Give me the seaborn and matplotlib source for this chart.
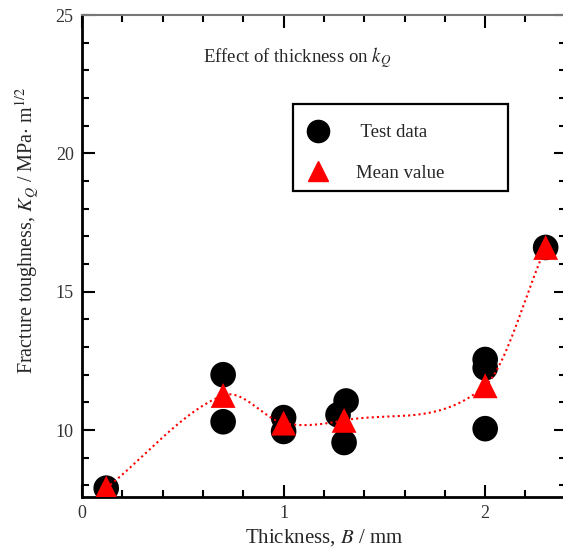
import matplotlib

matplotlib.use("Agg")
import matplotlib.pyplot as plt
from matplotlib.lines import Line2D
from matplotlib.patches import Rectangle
from matplotlib.ticker import MultipleLocator
import seaborn as sns
import numpy as np
import pandas as pd

# Individual test results
thickness_test = [0.12, 0.70, 0.70, 1.00, 1.00, 1.31, 1.27, 1.30, 2.00, 2.00, 2.00, 2.30]
k_test = [7.9, 12.0, 10.3, 10.45, 9.95, 11.05, 10.55, 9.55, 12.55, 12.25, 10.05, 16.6]

# Mean value per thickness
thickness_mean = [0.12, 0.70, 1.00, 1.30, 2.00, 2.30]
k_mean = [7.9, 11.25, 10.25, 10.35, 11.6, 16.6]


def smooth_curve(x, y, n=60):
    """Catmull-Rom style cubic Hermite curve through the mean values."""
    x = np.asarray(x, float)
    y = np.asarray(y, float)
    m = np.empty_like(y)
    m[0] = (y[1] - y[0]) / (x[1] - x[0])
    m[-1] = (y[-1] - y[-2]) / (x[-1] - x[-2])
    m[1:-1] = (y[2:] - y[:-2]) / (x[2:] - x[:-2])
    xs, ys = [], []
    for i in range(len(x) - 1):
        h = x[i + 1] - x[i]
        t = np.linspace(0, 1, n)
        h00 = 2 * t**3 - 3 * t**2 + 1
        h10 = t**3 - 2 * t**2 + t
        h01 = -2 * t**3 + 3 * t**2
        h11 = t**3 - t**2
        xs.append(x[i] + t * h)
        ys.append(h00 * y[i] + h10 * h * m[i] + h01 * y[i + 1] + h11 * h * m[i + 1])
    return np.concatenate(xs), np.concatenate(ys)


test_df = pd.DataFrame({"B": thickness_test, "K": k_test})
mean_df = pd.DataFrame({"B": thickness_mean, "K": k_mean})
xs, ys = smooth_curve(thickness_mean, k_mean)
curve_df = pd.DataFrame({"B": xs, "K": ys})

sns.set_style("ticks")
plt.rcParams["font.family"] = ["Liberation Serif", "DejaVu Serif"]
plt.rcParams["mathtext.fontset"] = "stix"

fig = plt.figure(figsize=(5.63, 5.52), dpi=100)
ax = fig.add_axes([0.1457, 0.0996, 0.8593, 0.8732])

sns.scatterplot(data=test_df, x="B", y="K", ax=ax, color="black", s=340,
                marker="o", edgecolor="none", zorder=2, legend=False)
sns.lineplot(data=curve_df, x="B", y="K", ax=ax, color="red", lw=1.5,
             linestyle=(0, (1, 1.5)), zorder=3, sort=False)
sns.scatterplot(data=mean_df, x="B", y="K", ax=ax, color="red", s=320,
                marker="^", edgecolor="none", zorder=4, legend=False)

ax.set_xlim(0, 2.4)
ax.set_ylim(7.58, 25)
ax.xaxis.set_major_locator(MultipleLocator(1))
ax.xaxis.set_minor_locator(MultipleLocator(0.2))
ax.yaxis.set_major_locator(MultipleLocator(5))
ax.yaxis.set_minor_locator(MultipleLocator(1))
ax.tick_params(which="both", direction="in", top=True, right=True,
               labelsize=13, labelcolor="#333333", color="black", pad=6)
ax.tick_params(which="major", length=9, width=1.5)
ax.tick_params(which="minor", length=5, width=1.5)
for axis in (ax.xaxis, ax.yaxis):
    for t in axis.get_major_ticks() + axis.get_minor_ticks():
        t.tick2line.set_color("#777777")

for side in ("left", "bottom"):
    ax.spines[side].set_linewidth(2)
    ax.spines[side].set_color("black")
ax.spines["top"].set_linewidth(1.5)
ax.spines["top"].set_color("#777777")
ax.spines["right"].set_visible(False)

ax.set_xlabel("Thickness, $B$ / mm", fontsize=15)
ax.set_ylabel("Fracture toughness, $K_Q$ / MPa$\\cdot$ m$^{1/2}$", fontsize=14.5)
ax.xaxis.set_label_coords(0.5, -0.062)
ax.yaxis.set_label_coords(-0.085, 0.554)
ax.text(0.25, 0.911, "Effect of thickness on $k_Q$", transform=ax.transAxes,
        fontsize=13.5, va="center", ha="left")

# legend frame drawn separately so the entries sit where they do in the figure
ax.add_patch(Rectangle((0.436, 0.635), 0.444, 0.180, transform=ax.transAxes,
                       fill=False, edgecolor="black", lw=1.6, zorder=5))
handles = [
    Line2D([], [], marker="o", color="black", ls="none", markersize=16),
    Line2D([], [], marker="^", color="red", ls="none", markersize=14),
]
ax.legend(handles, [" Test data", "Mean value"], loc="center left",
          bbox_to_anchor=(0.469, 0.714), fontsize=13.5, frameon=False,
          borderpad=0, labelspacing=1.25, handlelength=1.0,
          handletextpad=1.5, borderaxespad=0)

plt.savefig("out.png", dpi=100)
plt.close(fig)
